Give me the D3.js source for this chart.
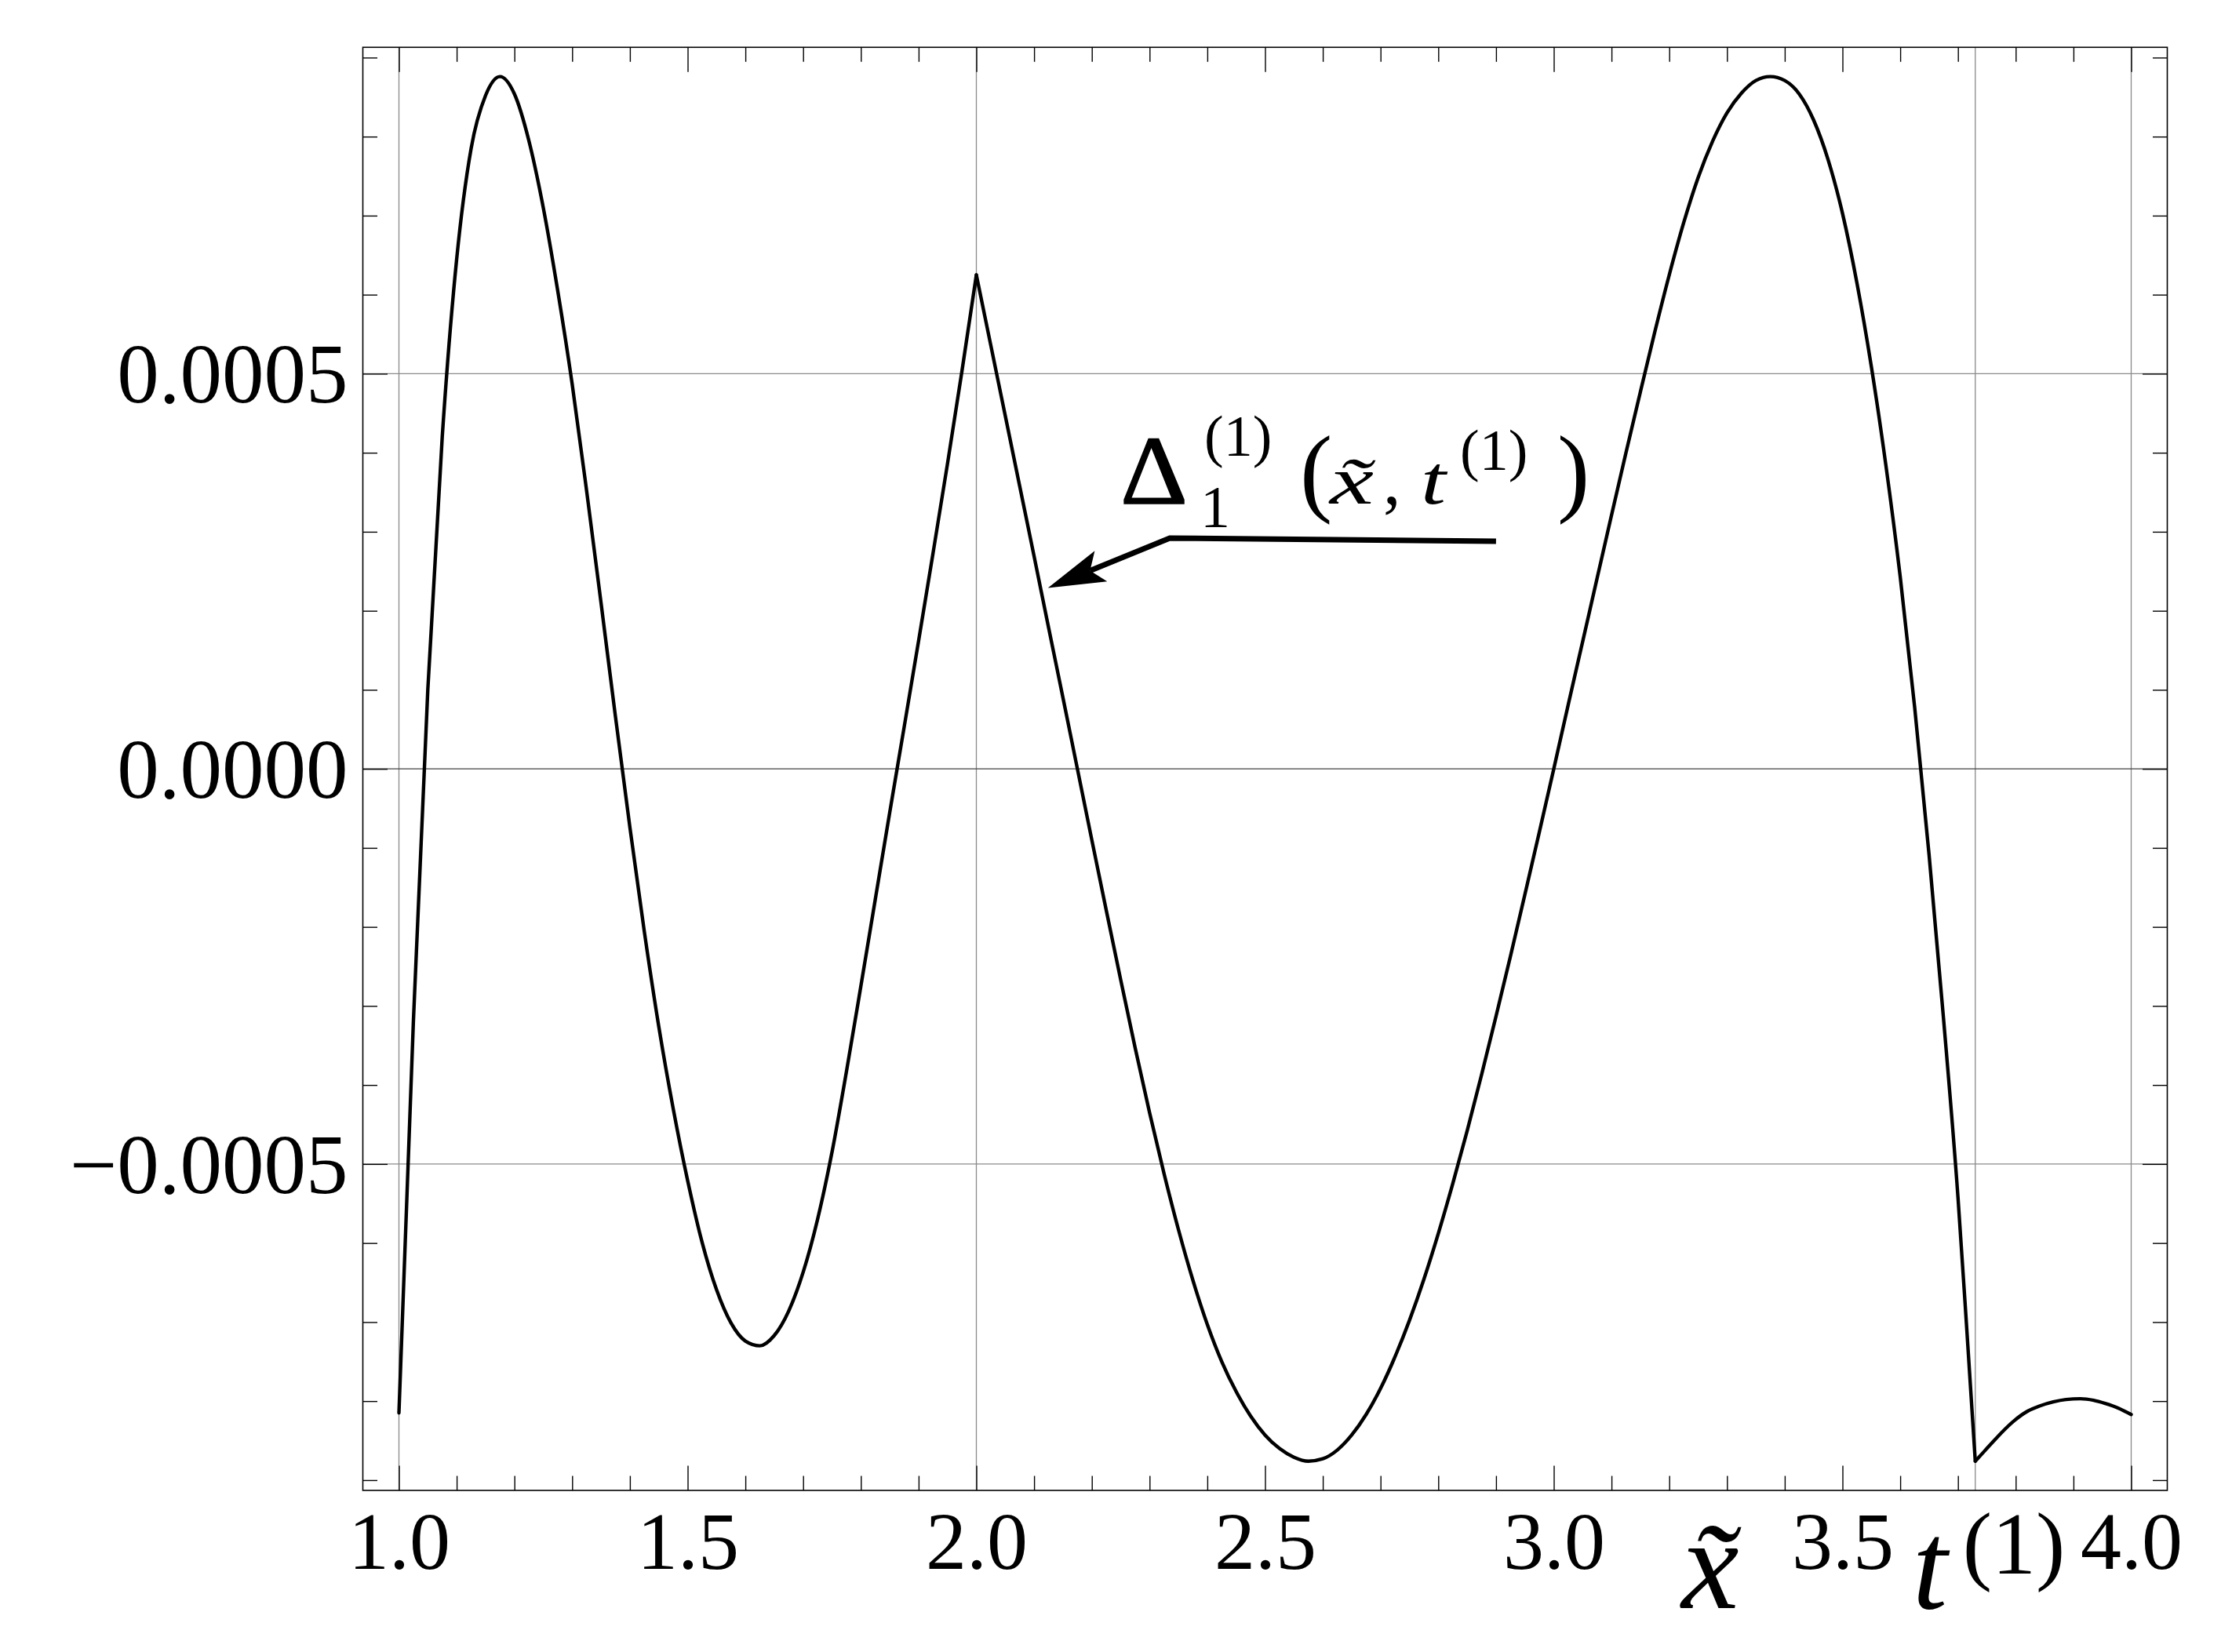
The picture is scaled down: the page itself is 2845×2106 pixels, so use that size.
<!DOCTYPE html>
<html><head><meta charset="utf-8">
<script src="https://cdn.jsdelivr.net/npm/d3@7"></script>
<style>html,body{margin:0;padding:0;background:#fff}svg{display:block}</style>
</head><body>
<script>
// ---- data ----
const t1 = 3.73;                       // the node t^(1)
const segment1X = [1.000,1.025,1.050,1.075,1.100,1.125,1.150,1.175,1.200,1.225,1.250,1.275,1.300,1.325,1.350,1.375,1.400,1.425,1.450,1.475,1.500,1.525,1.550,1.575,1.600,1.625,1.650,1.675,1.700,1.725,1.750,1.775,1.800,1.825,1.850,1.875,1.900,1.925,1.950,1.975,2.000];
const segment1Y = [-8.15e-4,-3.20e-4,1.00e-4,4.20e-4,6.45e-4,7.85e-4,8.52e-4,8.76e-4,8.54e-4,7.95e-4,7.10e-4,6.05e-4,4.87e-4,3.52e-4,2.10e-4,0.66e-4,-0.74e-4,-2.06e-4,-3.26e-4,-4.30e-4,-5.21e-4,-5.99e-4,-6.59e-4,-7.01e-4,-7.24e-4,-7.30e-4,-7.17e-4,-6.86e-4,-6.37e-4,-5.70e-4,-4.85e-4,-3.83e-4,-2.75e-4,-1.65e-4,-0.55e-4,0.53e-4,1.62e-4,2.73e-4,3.86e-4,5.03e-4,6.25e-4];
const segment2X = [2.000,2.025,2.050,2.075,2.100,2.125,2.150,2.175,2.200,2.225,2.250,2.275,2.300,2.325,2.350,2.375,2.400,2.425,2.450,2.475,2.500,2.525,2.550,2.575,2.600,2.625,2.650,2.675,2.700,2.725,2.750,2.775,2.800,2.825,2.850,2.875,2.900,2.925,2.950,2.975,3.000,3.025,3.050,3.075,3.100,3.125,3.150,3.175,3.200,3.225,3.250,3.275,3.300,3.325,3.350,3.375,3.400,3.425,3.450,3.475,3.500,3.525,3.550,3.575,3.600,3.625,3.650,3.675,3.700,3.715,3.730];
const segment2Y = [6.25e-4,5.36e-4,4.47e-4,3.58e-4,2.69e-4,1.79e-4,0.90e-4,0,-0.90e-4,-1.79e-4,-2.67e-4,-3.53e-4,-4.35e-4,-5.12e-4,-5.83e-4,-6.47e-4,-7.03e-4,-7.50e-4,-7.88e-4,-8.19e-4,-8.43e-4,-8.60e-4,-8.71e-4,-8.76e-4,-8.73e-4,-8.62e-4,-8.43e-4,-8.17e-4,-7.84e-4,-7.44e-4,-6.98e-4,-6.46e-4,-5.88e-4,-5.25e-4,-4.58e-4,-3.87e-4,-3.13e-4,-2.37e-4,-1.59e-4,-0.80e-4,0,0.81e-4,1.61e-4,2.41e-4,3.21e-4,4.00e-4,4.77e-4,5.53e-4,6.25e-4,6.91e-4,7.48e-4,7.94e-4,8.30e-4,8.55e-4,8.71e-4,8.76e-4,8.71e-4,8.54e-4,8.21e-4,7.71e-4,7.03e-4,6.15e-4,5.09e-4,3.85e-4,2.43e-4,0.78e-4,-1.09e-4,-3.16e-4,-5.42e-4,-7.06e-4,-8.76e-4];
const segment3X = [3.730,3.745,3.760,3.778,3.797,3.820,3.842,3.865,3.887,3.912,3.935,3.955,3.978,4.000];
const segment3Y = [-8.76e-4,-8.64e-4,-8.52e-4,-8.38e-4,-8.25e-4,-8.13e-4,-8.06e-4,-8.01e-4,-7.98e-4,-7.97e-4,-7.99e-4,-8.03e-4,-8.09e-4,-8.17e-4];

const xMajorTicks = [1.0,1.5,2.0,2.5,3.0,3.5,4.0];
const yMajorTicks = [-0.0005,0,0.0005];
const xGridLines = [1,2,t1,4];
const yGridLines = [-0.0005,0.0005];
const arrowTail  = [2.900, 0.000288];
const arrowElbow = [2.335, 0.000292];
const arrowTip   = [2.124, 0.000229];

// ---- layout ----
const W = 2845, H = 2106;
const L = 462.5, R = 2762.5, T = 60.3, B = 1900;
const serif = "'Liberation Serif','DejaVu Serif',serif";

const x = d3.scaleLinear().domain([0.9375, 4.0625]).range([L, R]);
const y = d3.scaleLinear().domain([-0.000913, 0.000913]).range([B, T]);

const svg = d3.select("body").append("svg").attr("width", W).attr("height", H)
  .style("background", "#fff");

// grid
svg.append("g").selectAll("line").data(xGridLines).join("line")
  .attr("x1", d => x(d)).attr("x2", d => x(d)).attr("y1", T).attr("y2", B)
  .attr("stroke", "#8a8a8a").attr("stroke-width", 1.3);
svg.append("g").selectAll("line").data(yGridLines).join("line")
  .attr("x1", L).attr("x2", R).attr("y1", d => y(d)).attr("y2", d => y(d))
  .attr("stroke", "#8a8a8a").attr("stroke-width", 1.3);
svg.append("line").attr("x1", L).attr("x2", R).attr("y1", y(0)).attr("y2", y(0))
  .attr("stroke", "#404040").attr("stroke-width", 1.2);

// axes (ticks pointing inward)
const xMinor = d3.range(10, 41).map(d => d / 10).filter(d => !xMajorTicks.some(m => Math.abs(m - d) < 1e-9));
const yMinor = d3.range(-9, 10).map(d => d / 10000).filter(d => !yMajorTicks.some(m => Math.abs(m - d) < 1e-12));

function styleAxis(g) {
  g.select(".domain").remove();
  g.selectAll(".tick line").attr("stroke", "#000").attr("stroke-width", 1.4);
}
const majLen = 31.5, minLen = 18.5;
const gB = svg.append("g").attr("transform", `translate(0,${B})`)
  .call(d3.axisBottom(x).tickValues(xMajorTicks).tickSize(-majLen).tickFormat(d3.format(".1f")));
styleAxis(gB);
gB.selectAll("text").attr("y", 100).attr("dy", 0)
  .attr("font-family", serif).attr("font-size", 104).attr("fill", "#000");
svg.append("g").attr("transform", `translate(0,${B})`)
  .call(d3.axisBottom(x).tickValues(xMinor).tickSize(-minLen).tickFormat("")).call(styleAxis);
svg.append("g").attr("transform", `translate(0,${T})`)
  .call(d3.axisTop(x).tickValues(xMajorTicks).tickSize(-majLen).tickFormat("")).call(styleAxis);
svg.append("g").attr("transform", `translate(0,${T})`)
  .call(d3.axisTop(x).tickValues(xMinor).tickSize(-minLen).tickFormat("")).call(styleAxis);

const gL = svg.append("g").attr("transform", `translate(${L},0)`)
  .call(d3.axisLeft(y).tickValues(yMajorTicks).tickSize(-majLen).tickFormat(d3.format(".4f")));
styleAxis(gL);
gL.selectAll("text").attr("x", -19).attr("dy", "0.34em")
  .attr("font-family", serif).attr("font-size", 107).attr("fill", "#000");
svg.append("g").attr("transform", `translate(${L},0)`)
  .call(d3.axisLeft(y).tickValues(yMinor).tickSize(-minLen).tickFormat("")).call(styleAxis);
svg.append("g").attr("transform", `translate(${R},0)`)
  .call(d3.axisRight(y).tickValues(yMajorTicks).tickSize(-majLen).tickFormat("")).call(styleAxis);
svg.append("g").attr("transform", `translate(${R},0)`)
  .call(d3.axisRight(y).tickValues(yMinor).tickSize(-minLen).tickFormat("")).call(styleAxis);

// frame
svg.append("rect").attr("x", L).attr("y", T).attr("width", R - L).attr("height", B - T)
  .attr("fill", "none").attr("stroke", "#000").attr("stroke-width", 1.6);

// curve: three smooth pieces joined at the nodes 2 and t^(1)
const line = d3.line().x(d => x(d[0])).y(d => y(d[1])).curve(d3.curveMonotoneX);
const segments = [
  d3.zip(segment1X, segment1Y),
  d3.zip(segment2X, segment2Y),
  d3.zip(segment3X, segment3Y)
];
svg.append("g").selectAll("path").data(segments).join("path")
  .attr("d", line).attr("fill", "none").attr("stroke", "#000")
  .attr("stroke-width", 4.4).attr("stroke-linejoin", "round").attr("stroke-linecap", "round");

// axis labels: x~ and t^(1)
const xl = svg.append("g").attr("font-family", serif).attr("fill", "#000");
xl.append("text").attr("x", x(3.271)).attr("y", 2050).attr("text-anchor", "middle")
  .attr("font-size", 165).attr("font-style", "italic").text("x\u0303");
const tX = x(t1);
xl.append("text").attr("x", tX - 80).attr("y", 2050)
  .attr("font-size", 160).attr("font-style", "italic").text("t");
xl.append("text").attr("x", tX - 16).attr("y", 2006)
  .attr("font-size", 112).text("(1)");

// annotation arrow
const ex = x(arrowElbow[0]), ey = y(arrowElbow[1]);
const tipX = x(arrowTip[0]), tipY = y(arrowTip[1]);
const dx = tipX - ex, dy = tipY - ey, len = Math.hypot(dx, dy);
const ux = dx / len, uy = dy / len, nx = -uy, ny = ux;
const headLen = 73, headW = 21, notch = 58;
svg.append("path")
  .attr("d", `M${x(arrowTail[0])},${y(arrowTail[1])}L${ex},${ey}L${tipX - ux * notch},${tipY - uy * notch}`)
  .attr("fill", "none").attr("stroke", "#000").attr("stroke-width", 7).attr("stroke-linejoin", "miter");
const p = (a, b) => [tipX - ux * a + nx * b, tipY - uy * a + ny * b];
svg.append("path")
  .attr("d", "M" + [p(0, 0), p(headLen, headW), p(notch, 0), p(headLen, -headW)].map(q => q.join(",")).join("L") + "Z")
  .attr("fill", "#000");

// annotation label  Δ_1^(1)(x~, t^(1))
const ann = svg.append("g").attr("font-family", serif).attr("fill", "#000");
const put = (dxp, dyp, size, txt, italic, width) => {
  const t = ann.append("text")
    .attr("x", ex + dxp).attr("y", ey + dyp).attr("font-size", size)
    .attr("font-style", italic ? "italic" : "normal").text(txt);
  if (width) t.attr("textLength", width).attr("lengthAdjust", "spacingAndGlyphs");
  return t;
};
put(-63, -44, 124, "\u0394", false, 86).attr("stroke", "#000").attr("stroke-width", 1.5);
put(39, -14, 76, "1");
put(44, -105, 74, "(1)");
put(166, -44, 124, "(");
put(204, -44, 86, "x\u0303", true, 56);
put(272, -44, 90, ",");
put(320, -44, 88, "t", true, 32);
put(370, -87, 74, "(1)");
put(494, -44, 124, ")");
</script>
</body></html>
